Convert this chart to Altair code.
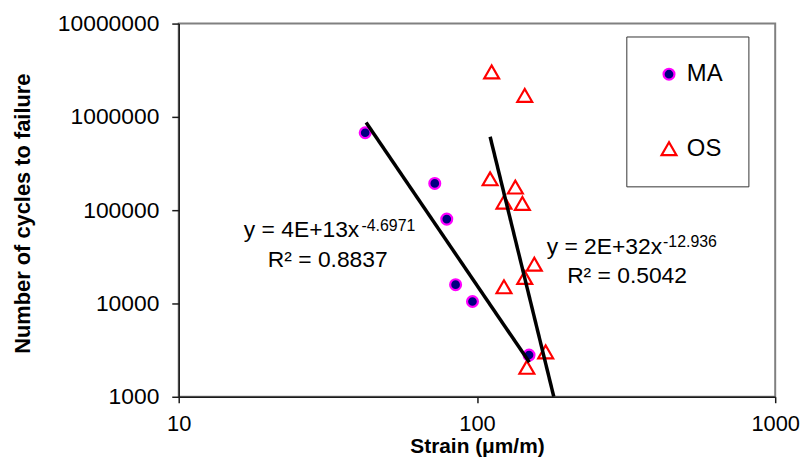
import altair as alt
import pandas as pd

FONT = "Liberation Sans"

# ---- data ----
ma_strain = [42.2, 72.2, 79.2, 84.8, 96.6, 149.5]
ma_cycles = [676000, 193600, 80200, 15900, 10500, 2800]

os_strain = [112, 144.6, 110.7, 134.5, 123.2, 142, 155.7, 144.6, 123.2, 170, 147]
os_cycles = [3030000, 1700000, 217000, 177000, 122000, 117900, 26400, 19000, 15100, 3030, 2070]

# trend line end points (power fits drawn as straight lines on log-log axes)
trend_series = ["MA", "MA", "OS", "OS"]
trend_strain = [42.5, 149.9, 110.7, 181]
trend_cycles = [869000, 2340, 612000, 1000]

# annotation texts and their anchor positions (data space)
eq_text = ["y = 4E+13x", "y = 2E+32x"]
eq_strain = [40.3, 417.5]
eq_cycles = [51600, 33800]

exp_text = ["-4.6971", "-12.936"]
exp_strain = [41.0, 420.7]
exp_cycles = [60250, 40700]

r2_text = ["R² = 0.8837", "R² = 0.5042"]
r2_strain = [31.6, 318.6]
r2_cycles = [24300, 16600]

x_ticks = [10, 100, 1000]
y_ticks = [1000, 10000, 100000, 1000000, 10000000]

series_names = ["MA", "OS"]

# ---- tables ----
points = pd.DataFrame({
    "series": ["MA"] * len(ma_strain) + ["OS"] * len(os_strain),
    "strain": ma_strain + os_strain,
    "cycles": ma_cycles + os_cycles,
})
trends = pd.DataFrame({"trend": trend_series, "strain": trend_strain, "cycles": trend_cycles})
eqs = pd.DataFrame({"label": eq_text, "strain": eq_strain, "cycles": eq_cycles})
exps = pd.DataFrame({"label": exp_text, "strain": exp_strain, "cycles": exp_cycles})
r2s = pd.DataFrame({"label": r2_text, "strain": r2_strain, "cycles": r2_cycles})

x_scale = alt.Scale(type="log", domain=[10, 1000], nice=False)
y_scale = alt.Scale(type="log", domain=[1000, 10000000], nice=False)

x_axis = alt.Axis(
    values=x_ticks, format="d", title="Strain (μm/m)", grid=False,
    tickSize=6, tickWidth=1.5, tickColor="#1a1a1a",
    domainColor="#1a1a1a", domainWidth=1.5,
    labelPadding=11, labelFlush=False, labelFont=FONT, labelFontSize=22, labelColor="black",
    titleFont=FONT, titleFontSize=21, titleFontWeight="bold", titleColor="black",
    titleY=56, titleBaseline="alphabetic",
)
y_axis = alt.Axis(
    values=y_ticks, format="d", title="Number of cycles to failure", grid=False,
    tickSize=7, tickWidth=1.5, tickColor="#1a1a1a",
    domainColor="#1a1a1a", domainWidth=1.5,
    labelPadding=13, labelFont=FONT, labelFontSize=23, labelColor="black",
    titleFont=FONT, titleFontSize=22, titleFontWeight="bold", titleColor="black",
    titleX=-150, titleY=191, titleBaseline="alphabetic",
)

legend = alt.Legend(
    title=None, orient="none", legendX=451, legendY=13, padding=26,
    strokeColor="#333333", fillColor="white",
    labelFont=FONT, labelFontSize=24, labelColor="black",
    rowPadding=51, symbolOffset=5, labelOffset=6, symbolStrokeWidth=2.2,
)

X = alt.X("strain:Q", scale=x_scale, axis=x_axis)
Y = alt.Y("cycles:Q", scale=y_scale, axis=y_axis)

pts = alt.Chart(points).mark_point(opacity=1, strokeWidth=2.2).encode(
    x=X, y=Y,
    shape=alt.Shape("series:N", scale=alt.Scale(domain=series_names, range=["circle", "triangle-up"]), legend=legend),
    fill=alt.Fill("series:N", scale=alt.Scale(domain=series_names, range=["#000080", "transparent"]), legend=legend),
    stroke=alt.Stroke("series:N", scale=alt.Scale(domain=series_names, range=["#FF00FF", "#FF0000"]), legend=legend),
    size=alt.Size("series:N", scale=alt.Scale(domain=series_names, range=[120, 225]), legend=legend),
)

lines = alt.Chart(trends).mark_line(color="black", strokeWidth=3.5, clip=True).encode(
    x=alt.X("strain:Q", scale=x_scale),
    y=alt.Y("cycles:Q", scale=y_scale),
    detail="trend:N",
)

eq_layer = alt.Chart(eqs).mark_text(font=FONT, fontSize=23, align="right", baseline="alphabetic", color="black").encode(
    x=alt.X("strain:Q", scale=x_scale), y=alt.Y("cycles:Q", scale=y_scale), text="label:N"
)
exp_layer = alt.Chart(exps).mark_text(font=FONT, fontSize=16, align="left", baseline="alphabetic", color="black").encode(
    x=alt.X("strain:Q", scale=x_scale), y=alt.Y("cycles:Q", scale=y_scale), text="label:N"
)
r2_layer = alt.Chart(r2s).mark_text(font=FONT, fontSize=23, align="center", baseline="alphabetic", color="black").encode(
    x=alt.X("strain:Q", scale=x_scale), y=alt.Y("cycles:Q", scale=y_scale), text="label:N"
)

chart = alt.layer(pts, lines, eq_layer, exp_layer, r2_layer).properties(
    width=601, height=376,
    autosize=alt.AutoSizeParams(type="none"),
    padding={"left": 172, "top": 14, "right": 27, "bottom": 61},
    background="white",
).configure_view(stroke="#808080", strokeWidth=2)

chart.save("out.html", embed_options={"renderer": "svg", "actions": False})
